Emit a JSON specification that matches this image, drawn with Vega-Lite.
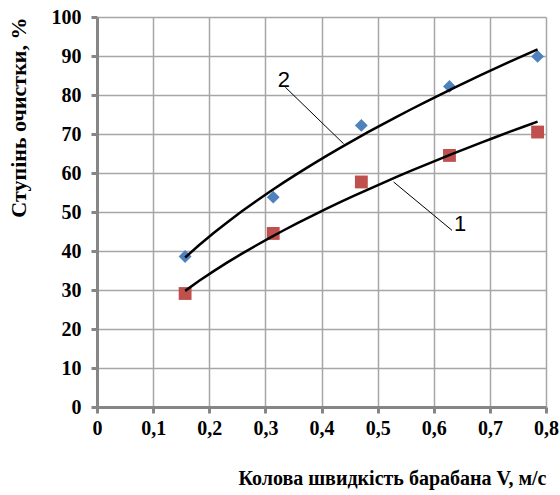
{
  "$schema": "https://vega.github.io/schema/vega-lite/v6.json",
  "width": 449,
  "height": 390,
  "autosize": "none",
  "padding": {"left": 97, "top": 17, "right": 14, "bottom": 88},
  "background": "white",
  "config": {
    "view": {"stroke": null},
    "axis": {
      "domainColor": "#868686",
      "domainWidth": 3,
      "tickColor": "#868686",
      "tickWidth": 3,
      "tickSize": 6,
      "gridColor": "#a6a6a6",
      "gridWidth": 1.5,
      "labelFont": "Liberation Serif",
      "labelFontWeight": "bold",
      "labelFontSize": 20,
      "labelColor": "black",
      "labelOverlap": false,
      "labelFlush": false,
      "titleFont": "Liberation Serif",
      "titleFontWeight": "bold",
      "titleColor": "black",
      "titleAnchor": "end"
    },
    "axisX": {"tickCount": 8, "titleFontSize": 20},
    "axisY": {"tickCount": 10, "titleFontSize": 22}
  },
  "datasets": {
    "points": [
      {"v": 0.157, "eff": 38.6, "series": "2"},
      {"v": 0.314, "eff": 53.8, "series": "2"},
      {"v": 0.471, "eff": 72.2, "series": "2"},
      {"v": 0.628, "eff": 82.2, "series": "2"},
      {"v": 0.785, "eff": 89.9, "series": "2"},
      {"v": 0.157, "eff": 29.1, "series": "1"},
      {"v": 0.314, "eff": 44.5, "series": "1"},
      {"v": 0.471, "eff": 57.7, "series": "1"},
      {"v": 0.628, "eff": 64.5, "series": "1"},
      {"v": 0.785, "eff": 70.5, "series": "1"}
    ],
    "leaders": [
      {"x1": 0.3355, "y1": 82.0, "x2": 0.4394, "y2": 67.5, "label": "2", "lx": 0.333, "ly": 83.8},
      {"x1": 0.5285, "y1": 57.7, "x2": 0.6325, "y2": 45.3, "label": "1", "lx": 0.647, "ly": 47.0}
    ]
  },
  "layer": [
    {
      "data": {"name": "points"},
      "mark": {"type": "point", "filled": true, "opacity": 1},
      "encoding": {
        "x": {
          "field": "v", "type": "quantitative",
          "scale": {"domain": [0, 0.8], "nice": false},
          "axis": {
            "labelExpr": "datum.value == 0 ? '0' : replace(format(datum.value, '.1f'), '.', ',')",
            "labelPadding": 5,
            "titlePadding": 30,
            "title": "Колова швидкість  барабана V, м/с"
          }
        },
        "y": {
          "field": "eff", "type": "quantitative",
          "scale": {"domain": [0, 100], "nice": false},
          "axis": {
            "labelPadding": 10,
            "titlePadding": 21,
            "title": "Ступінь очистки, %"
          }
        },
        "shape": {"field": "series", "type": "nominal", "scale": {"domain": ["2", "1"], "range": ["diamond", "square"]}, "legend": null},
        "color": {"field": "series", "type": "nominal", "scale": {"domain": ["2", "1"], "range": ["#4F81BD", "#C0504D"]}, "legend": null},
        "size": {"value": 165}
      }
    },
    {
      "data": {"name": "points"},
      "transform": [
        {"regression": "eff", "on": "v", "groupby": ["series"], "method": "pow", "extent": [0.157, 0.785]}
      ],
      "mark": {"type": "line", "color": "black", "strokeWidth": 2.5},
      "encoding": {
        "x": {"field": "v", "type": "quantitative"},
        "y": {"field": "eff", "type": "quantitative"},
        "detail": {"field": "series"}
      }
    },
    {
      "data": {"name": "leaders"},
      "mark": {"type": "rule", "color": "black", "strokeWidth": 1},
      "encoding": {
        "x": {"field": "x1", "type": "quantitative"},
        "y": {"field": "y1", "type": "quantitative"},
        "x2": {"field": "x2"},
        "y2": {"field": "y2"}
      }
    },
    {
      "data": {"name": "leaders"},
      "mark": {"type": "text", "font": "Liberation Sans", "fontSize": 22, "color": "black", "align": "center", "baseline": "middle"},
      "encoding": {
        "x": {"field": "lx", "type": "quantitative"},
        "y": {"field": "ly", "type": "quantitative"},
        "text": {"field": "label"}
      }
    }
  ]
}
